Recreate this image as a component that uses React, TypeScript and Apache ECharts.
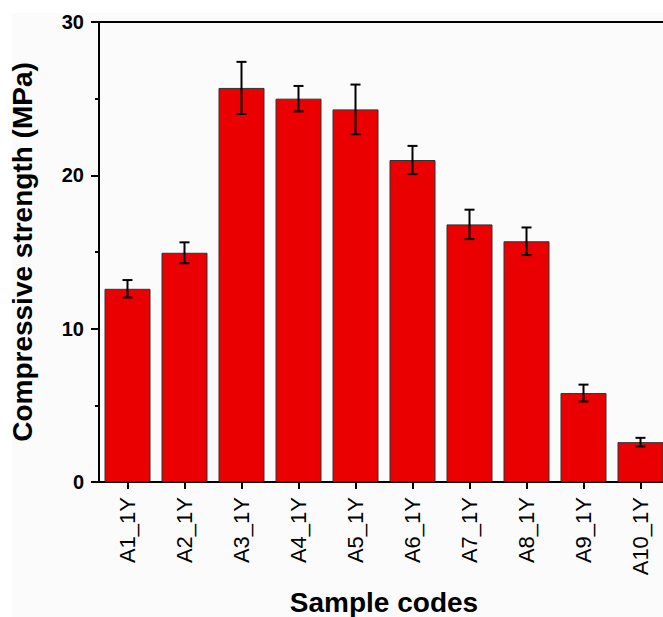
import React, { useEffect, useRef } from "react";
import * as echarts from "echarts";

// Sample codes and mean compressive strength (MPa) with standard deviation
const categories = ["A1_1Y", "A2_1Y", "A3_1Y", "A4_1Y", "A5_1Y", "A6_1Y", "A7_1Y", "A8_1Y", "A9_1Y", "A10_1Y"];
const strength = [12.6, 14.95, 25.7, 25.0, 24.3, 21.0, 16.8, 15.7, 5.8, 2.6];
const deviation = [0.57, 0.68, 1.7, 0.83, 1.62, 0.92, 0.96, 0.9, 0.55, 0.28];
const yTicks = [0, 10, 20, 30];

const FONT = "'Liberation Sans', Arial, Helvetica, sans-serif";

export default function App() {
  const ref = useRef<HTMLDivElement>(null);

  useEffect(() => {
    if (!ref.current) return;
    const chart = echarts.init(ref.current, null, { renderer: "svg" });

    const errorData = strength.map((v, i) => [i, v - deviation[i], v + deviation[i]]);

    chart.setOption({
      animation: false,
      backgroundColor: "#ffffff",
      graphic: [
        {
          type: "rect",
          silent: true,
          z: -100,
          shape: { x: 12, y: 13, width: 651, height: 604 },
          style: { fill: "#fbfbfb" },
        },
      ],
      grid: {
        left: 99,
        top: 22,
        width: 570,
        height: 460,
        outerBoundsMode: "none",
        containLabel: false,
        show: true,
        borderColor: "#000",
        borderWidth: 2,
        backgroundColor: "transparent",
      },
      xAxis: {
        type: "category",
        data: categories,
        name: "Sample codes",
        nameLocation: "middle",
        nameGap: 106,
        nameTextStyle: { fontFamily: FONT, fontSize: 28, fontWeight: "bold", color: "#000" },
        axisLine: { show: true, lineStyle: { color: "#000", width: 2 } },
        axisTick: { show: true, alignWithLabel: true, length: 7, lineStyle: { color: "#000", width: 2 } },
        axisLabel: {
          rotate: 90,
          margin: 15,
          fontFamily: FONT,
          fontSize: 22,
          color: "#000",
        },
      },
      yAxis: {
        type: "value",
        min: yTicks[0],
        max: yTicks[yTicks.length - 1],
        interval: 10,
        name: "Compressive strength (MPa)",
        nameLocation: "middle",
        nameGap: 63,
        nameTextStyle: { fontFamily: FONT, fontSize: 28, fontWeight: "bold", color: "#000" },
        axisLine: { show: true, lineStyle: { color: "#000", width: 2 } },
        axisTick: { show: true, length: 8, lineStyle: { color: "#000", width: 2 } },
        minorTick: { show: true, splitNumber: 2, length: 4, lineStyle: { color: "#000", width: 2 } },
        splitLine: { show: false },
        axisLabel: {
          margin: 15,
          fontFamily: FONT,
          fontSize: 20,
          fontWeight: "bold",
          color: "#000",
        },
      },
      series: [
        {
          type: "bar",
          data: strength,
          barWidth: 46,
          itemStyle: { color: "#ea0000", borderColor: "#333", borderWidth: 1 },
        },
        {
          type: "custom",
          data: errorData,
          z: 10,
          renderItem: (params: any, api: any) => {
            const idx = api.value(0);
            const low = api.coord([idx, api.value(1)]);
            const high = api.coord([idx, api.value(2)]);
            const half = 5;
            const style = { stroke: "#000", lineWidth: 2 };
            return {
              type: "group",
              children: [
                { type: "line", shape: { x1: high[0], y1: high[1], x2: low[0], y2: low[1] }, style },
                { type: "line", shape: { x1: high[0] - half, y1: high[1], x2: high[0] + half, y2: high[1] }, style },
                { type: "line", shape: { x1: low[0] - half, y1: low[1], x2: low[0] + half, y2: low[1] }, style },
              ],
            };
          },
        },
      ],
    });

    return () => chart.dispose();
  }, []);

  return (
    <div
      ref={ref}
      style={{ position: "fixed", left: 0, top: 0, width: 663, height: 617, overflow: "hidden" }}
    />
  );
}
